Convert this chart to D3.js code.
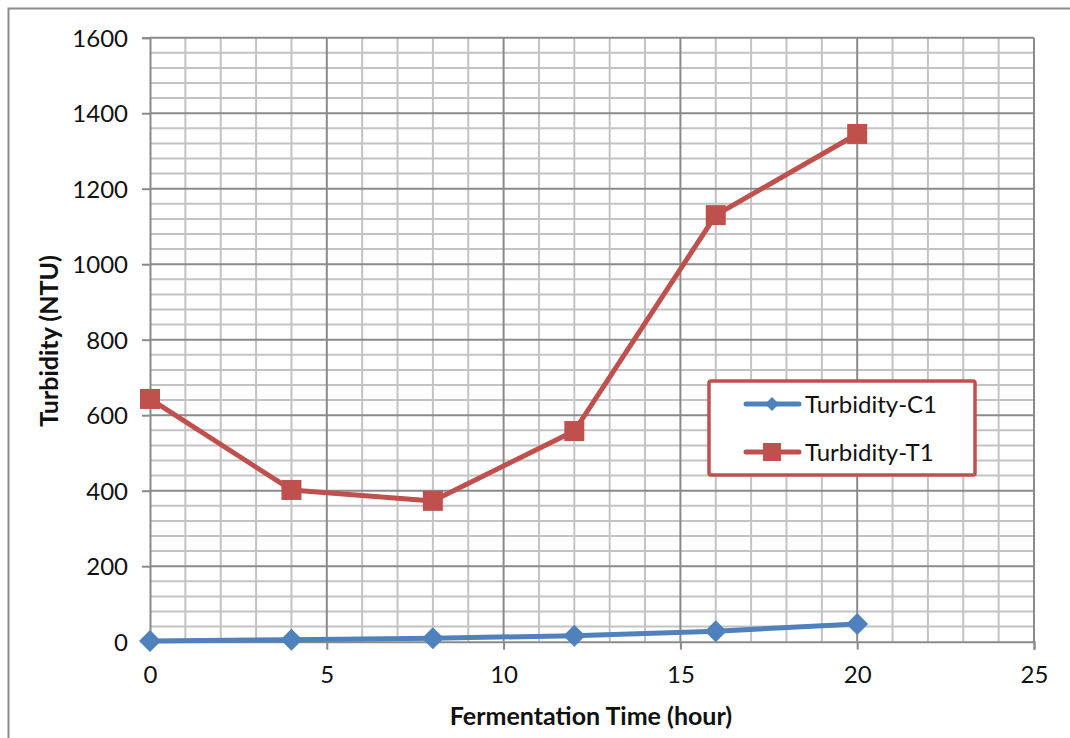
<!DOCTYPE html>
<html>
<head>
<meta charset="utf-8">
<script src="https://cdn.jsdelivr.net/npm/d3@7"></script>
<style>
  html, body { margin: 0; padding: 0; background: #fff; }
  svg { display: block; font-family: Lato, "Open Sans", sans-serif; }
</style>
</head>
<body>
<svg id="chart" width="1070" height="738"></svg>
<script>
// Fermentation sampling times (hours)
const hours = [0, 4, 8, 12, 16, 20];
// Turbidity readings (NTU)
const turbidityC1 = [2, 5, 9, 16, 28, 47];
const turbidityT1 = [643, 402, 373, 558, 1130, 1345];
const seriesNames = ["Turbidity-C1", "Turbidity-T1"];
const xTicks = [0, 5, 10, 15, 20, 25];
const yTicks = [0, 200, 400, 600, 800, 1000, 1200, 1400, 1600];

const svg = d3.select("#chart");
const m = { left: 150, right: 1034, top: 37.7, bottom: 641.7 };

const x = d3.scaleLinear().domain([0, 25]).range([m.left, m.right]);
const y = d3.scaleLinear().domain([0, 1600]).range([m.bottom, m.top]);

// outer chart frame
svg.append("rect")
  .attr("x", 8.5).attr("y", 8.5).attr("width", 1100).attr("height", 800)
  .attr("fill", "#fff").attr("stroke", "#8c8c8c").attr("stroke-width", 2);

const grid = svg.append("g");
// minor grid lines
grid.selectAll(".vmin").data(d3.range(1, 25).filter(v => v % 5 !== 0)).join("line")
  .attr("x1", d => x(d)).attr("x2", d => x(d))
  .attr("y1", m.top).attr("y2", m.bottom)
  .attr("stroke", "#c3c3c3").attr("stroke-width", 2);
grid.selectAll(".hmin").data(d3.range(40, 1600, 40).filter(v => v % 200 !== 0)).join("line")
  .attr("x1", m.left).attr("x2", m.right)
  .attr("y1", d => y(d)).attr("y2", d => y(d))
  .attr("stroke", "#c3c3c3").attr("stroke-width", 2);
// major grid lines
grid.selectAll(".vmaj").data(xTicks.slice(1)).join("line")
  .attr("x1", d => x(d)).attr("x2", d => x(d))
  .attr("y1", m.top).attr("y2", m.bottom)
  .attr("stroke", "#8a8a8a").attr("stroke-width", 2);
grid.selectAll(".hmaj").data(yTicks.slice(1)).join("line")
  .attr("x1", m.left).attr("x2", m.right)
  .attr("y1", d => y(d)).attr("y2", d => y(d))
  .attr("stroke", "#8a8a8a").attr("stroke-width", 2);

// axes
const xAxis = svg.append("g").attr("transform", `translate(0,${m.bottom})`)
  .call(d3.axisBottom(x).tickValues(xTicks).tickSize(8).tickPadding(16).tickFormat(d3.format("d")));
const yAxis = svg.append("g").attr("transform", `translate(${m.left},0)`)
  .call(d3.axisLeft(y).tickValues(yTicks).tickSize(8).tickPadding(14).tickFormat(d3.format("d")));
[xAxis, yAxis].forEach(a => {
  a.select(".domain").attr("stroke", "#8a8a8a").attr("stroke-width", 2);
  a.selectAll(".tick line").attr("stroke", "#8a8a8a").attr("stroke-width", 2);
  a.selectAll(".tick text").attr("fill", "#111").style("font-size", "24px")
    .style("font-family", "Lato, 'Open Sans', sans-serif");
});
yAxis.selectAll(".tick text").attr("dy", "0.36em");

// axis titles
svg.append("text").attr("x", 591).attr("y", 725).attr("text-anchor", "middle")
  .style("font-size", "25px").style("font-weight", "bold").attr("fill", "#111")
  .text("Fermentation Time (hour)");
svg.append("text").attr("transform", "translate(58,341) rotate(-90)").attr("text-anchor", "middle")
  .style("font-size", "25px").style("font-weight", "bold").attr("fill", "#111")
  .text("Turbidity (NTU)");

const line = d3.line().x(d => x(d[0])).y(d => y(d[1]));
const colors = ["#4f81bd", "#c0504d"];
const data = [turbidityC1, turbidityT1].map(vals => hours.map((h, i) => [h, vals[i]]));

const diamond = s => `M0,${-s}L${s},0L0,${s}L${-s},0Z`;
const square = s => `M${-s},${-s}H${s}V${s}H${-s}Z`;
const markers = [diamond(11), square(10)];

data.forEach((pts, k) => {
  svg.append("path").datum(pts).attr("d", line)
    .attr("fill", "none").attr("stroke", colors[k]).attr("stroke-width", 5)
    .attr("stroke-linejoin", "round");
  svg.selectAll(null).data(pts).join("path")
    .attr("transform", d => `translate(${x(d[0])},${y(d[1])})`)
    .attr("d", markers[k]).attr("fill", colors[k]);
});

// legend
const lg = svg.append("g");
lg.append("rect").attr("x", 709).attr("y", 381).attr("width", 266).attr("height", 94)
  .attr("fill", "#fff").attr("stroke", "#c0504d").attr("stroke-width", 3.5).attr("rx", 2);
seriesNames.forEach((name, k) => {
  const ly = 404 + k * 48;
  lg.append("line").attr("x1", 746).attr("x2", 799).attr("y1", ly).attr("y2", ly)
    .attr("stroke", colors[k]).attr("stroke-width", 5).attr("stroke-linecap", "round");
  lg.append("path").attr("transform", `translate(772,${ly})`)
    .attr("d", k === 0 ? diamond(7) : square(9)).attr("fill", colors[k]);
  lg.append("text").attr("x", 805).attr("y", ly).attr("dy", "0.36em")
    .style("font-size", "24px").attr("fill", "#111").text(name);
});
</script>
</body>
</html>
